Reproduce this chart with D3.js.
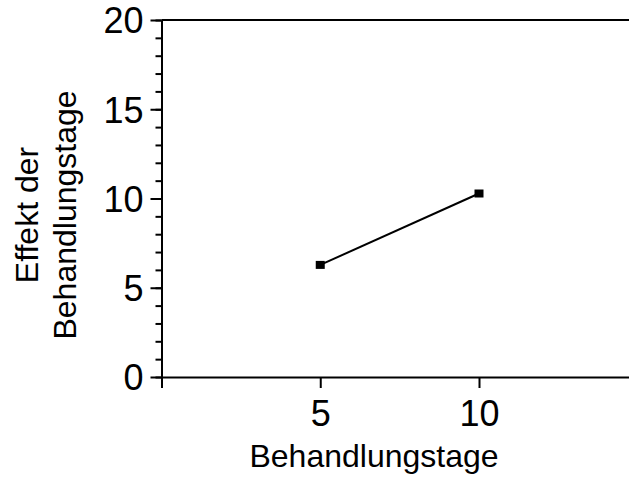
<!DOCTYPE html>
<html>
<head>
<meta charset="utf-8">
<script src="https://cdn.jsdelivr.net/npm/d3@7"></script>
<style>
  body { margin: 0; background: #fff; }
  svg { display: block; }
  text { font-family: "Liberation Sans", Arial, sans-serif; fill: #000; }
</style>
</head>
<body>
<svg id="chart" width="629" height="481"></svg>
<script>
// data
var days = [5, 10]
var effect = [6.28, 10.28]
var xTicks = [0, 5, 10]
var yMajor = [0, 5, 10, 15, 20]
var yMinor = d3.range(0, 21)

var svg = d3.select("#chart")
var x = d3.scaleLinear().domain([0, 15]).range([161.5, 161.5 + 15 * 31.75])
var y = d3.scaleLinear().domain([0, 20]).range([377, 20])

var g = svg.append("g")

// y axis (minor ticks then major ticks with labels)
g.append("g").attr("transform", "translate(" + x(0) + ",0)")
  .call(d3.axisLeft(y).tickValues(yMinor).tickSize(6).tickFormat(""))
  .call(a => a.select(".domain").remove())
  .selectAll("line").attr("stroke-width", 2)

var yAx = g.append("g").attr("transform", "translate(" + x(0) + ",0)")
  .call(d3.axisLeft(y).tickValues(yMajor).tickSize(11).tickPadding(7).tickSizeOuter(0))
yAx.select(".domain").attr("stroke-width", 2)
yAx.selectAll("line").attr("stroke-width", 2)
yAx.selectAll("text").style("font-size", "36px").attr("dy", "0.36em")

// x axis
var xAx = g.append("g").attr("transform", "translate(0," + y(0) + ")")
  .call(d3.axisBottom(x).tickValues(xTicks).tickSize(11).tickPadding(12).tickSizeOuter(0)
    .tickFormat(d => d == 0 ? "" : d))
xAx.select(".domain").attr("stroke-width", 2)
xAx.selectAll("line").attr("stroke-width", 2)
xAx.selectAll("text").style("font-size", "36px").attr("dy", "0.71em")

// top frame line
g.append("line")
  .attr("x1", x(0)).attr("x2", 629)
  .attr("y1", y(20)).attr("y2", y(20))
  .attr("stroke", "#000").attr("stroke-width", 2)

// data line and markers
var pts = days.map((d, i) => [d, effect[i]])
g.append("path").datum(pts)
  .attr("fill", "none").attr("stroke", "#000").attr("stroke-width", 2)
  .attr("d", d3.line().x(d => x(d[0])).y(d => y(d[1])))

g.selectAll("rect.pt").data(pts).enter().append("rect").attr("class", "pt")
  .attr("x", d => x(d[0]) - 4.5).attr("y", d => y(d[1]) - 4)
  .attr("width", 9).attr("height", 8)
  .attr("fill", "#000")

// axis titles
svg.append("text")
  .attr("x", 374).attr("y", 467)
  .attr("text-anchor", "middle").style("font-size", "32px")
  .text("Behandlungstage")

var yt = svg.append("text")
  .attr("transform", "translate(38,215) rotate(-90)")
  .attr("text-anchor", "middle").style("font-size", "32px")
yt.append("tspan").attr("x", 0).attr("y", 0).text("Effekt der")
yt.append("tspan").attr("x", 0).attr("y", 38).text("Behandlungstage")
</script>
</body>
</html>
